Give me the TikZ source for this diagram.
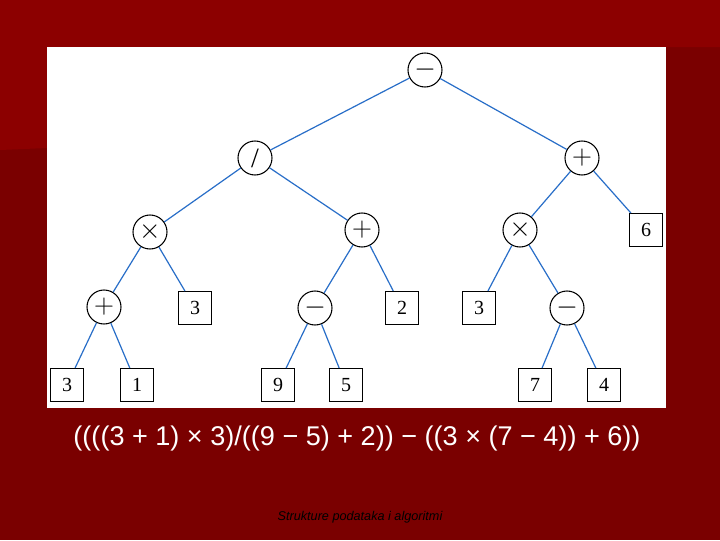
\documentclass[tikz,border=0pt]{standalone}
\usepackage{fontspec}
\setmainfont{Liberation Serif}
\newfontfamily\sansf{Liberation Sans}
\begin{document}
\begin{tikzpicture}[x=0.75pt,y=-0.75pt,
  op/.style={circle,draw=black,thick,minimum size=34*0.75pt,inner sep=0pt,font=\fontsize{21}{21}\selectfont},
  lf/.style={rectangle,draw=black,thick,minimum size=33*0.75pt,inner sep=0pt,font=\fontsize{15}{15}\selectfont},
  ed/.style={draw={rgb,255:red,40;green,110;blue,200},line width=0.9pt}]
\fill[fill={rgb,255:red,122;green,0;blue,0}] (0,0) rectangle (720,540);
\fill[fill={rgb,255:red,140;green,0;blue,0}] (0,0) -- (720,0) -- (720,47) -- (47,47) -- (47,148) -- (0,150) -- cycle;
\fill[white] (47,47) rectangle (666,408);
\useasboundingbox (0,0) rectangle (720,540);
\node[op] (r) at (425,70) {$-$};
\node[op] (d) at (255,158) {/};
\node[op] (p1) at (582,158) {$+$};
\node[op] (t1) at (150,232) {$\times$};
\node[op] (p2) at (362,230) {$+$};
\node[op] (t2) at (520,230) {$\times$};
\node[lf] (s6) at (646,230) {6};
\node[op] (p3) at (104,307) {$+$};
\node[lf] (a3) at (195,308) {3};
\node[op] (m1) at (315,308) {$-$};
\node[lf] (a2) at (402,308) {2};
\node[lf] (b3) at (479,308) {3};
\node[op] (m2) at (567,308) {$-$};
\node[lf] (c3) at (67,385) {3};
\node[lf] (c1) at (137,385) {1};
\node[lf] (c9) at (278,385) {9};
\node[lf] (c5) at (346,385) {5};
\node[lf] (c7) at (535,385) {7};
\node[lf] (c4) at (604,385) {4};
\foreach \a/\b in {r/d,r/p1,d/t1,d/p2,p1/t2,p1/s6,t1/p3,t1/a3,p2/m1,p2/a2,t2/b3,t2/m2,p3/c3,p3/c1,m1/c9,m1/c5,m2/c7,m2/c4}
  \draw[ed] (\a) -- (\b);
\node[white,font=\sansf\fontsize{20.3}{20}\selectfont] (ex) at (357,438) {((((3 + 1) × 3)/((9 − 5) + 2)) − ((3 × (7 − 4)) + 6))};
\node[black,font=\sansf\itshape\fontsize{9.5}{10}\selectfont] (ft) at (360,517) {Strukture podataka i algoritmi};
\end{tikzpicture}
\end{document}
